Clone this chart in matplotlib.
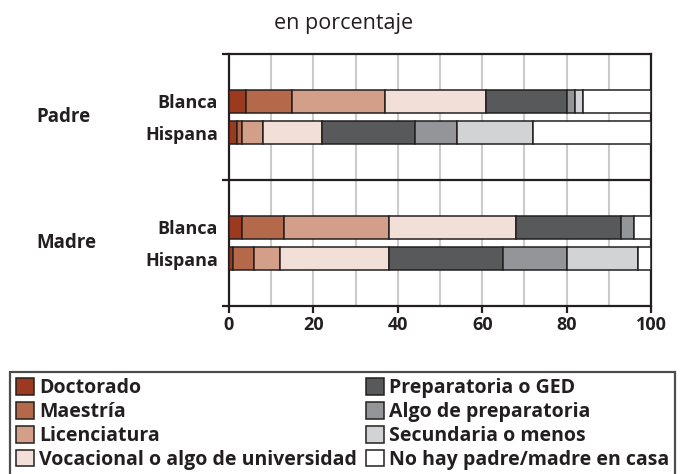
import matplotlib
matplotlib.use("Agg")
import matplotlib.pyplot as plt
from matplotlib.patches import Patch
from matplotlib import transforms

plt.rcParams['font.family'] = ['Open Sans', 'DejaVu Sans']

# datos (en porcentaje)
niveles = ['Doctorado', 'Maestría', 'Licenciatura', 'Vocacional o algo de universidad',
           'Preparatoria o GED', 'Algo de preparatoria', 'Secundaria o menos',
           'No hay padre/madre en casa']
grupos = ['Padre', 'Madre']
razas = ['Blanca', 'Hispana', 'Blanca', 'Hispana']
padre_blanca = [4, 11, 22, 24, 19, 2, 2, 16]
padre_hispana = [2, 1, 5, 14, 22, 10, 18, 28]
madre_blanca = [3, 10, 25, 30, 25, 3, 0, 4]
madre_hispana = [1, 5, 6, 26, 27, 15, 17, 3]
filas = [padre_blanca, padre_hispana, madre_blanca, madre_hispana]

colores = ['#9b3a1f', '#b5694b', '#d49f88', '#f2e0d8',
           '#58595b', '#939598', '#d1d3d4', '#ffffff']
oscuro = '#231f20'

fig = plt.figure(figsize=(6.88, 4.74), dpi=100)
ax = fig.add_axes([229 / 688, 1 - 306 / 474, 422 / 688, 252 / 474])

posiciones = [1.5, 2.5, 5.5, 6.5]
for pos, fila in zip(posiciones, filas):
    izq = 0
    for valor, color in zip(fila, colores):
        if valor > 0:
            ax.barh(pos, valor, left=izq, height=0.73, color=color,
                    edgecolor=oscuro, linewidth=1.1, zorder=3)
        izq += valor

ax.set_xlim(0, 100)
ax.set_ylim(8, 0)
ax.axhline(4, color=oscuro, linewidth=1.6, zorder=4)

ax.set_xticks(range(0, 101, 20))
ax.set_xticks(range(10, 100, 20), minor=True)
ax.grid(axis='x', which='both', color='#cbcbcb', linewidth=1.5, zorder=0)
ax.tick_params(axis='x', which='major', direction='out', length=5, width=1.6,
               color=oscuro, labelsize=13, pad=2)
ax.tick_params(axis='x', which='minor', length=0)
for t in ax.get_xticklabels():
    t.set_fontweight('bold')
    t.set_color(oscuro)

ax.set_yticks([0, 4, 8])
ax.set_yticklabels([])
ax.set_yticks(posiciones, minor=True)
ax.set_yticklabels(razas, minor=True, fontsize=13, fontweight='bold', color=oscuro)
ax.tick_params(axis='y', which='major', direction='out', length=5, width=1.6, color=oscuro)
ax.tick_params(axis='y', which='minor', length=0, pad=8)

for s in ax.spines.values():
    s.set_linewidth(1.6)
    s.set_color(oscuro)

tr = transforms.blended_transform_factory(fig.transFigure, ax.transData)
for g, y in zip(grupos, [2, 6]):
    ax.text(36 / 688, y, g, transform=tr, ha='left', va='center',
            fontsize=13.5, fontweight='bold', color=oscuro)

fig.text(0.5, 1 - 23 / 474, 'en porcentaje', ha='center', va='center',
         fontsize=15.5, color=oscuro)

manijas = [Patch(facecolor=c, edgecolor=oscuro, linewidth=1.1) for c in colores]
leg = fig.legend(manijas, niveles, loc='upper left', ncol=2,
                 bbox_to_anchor=(10 / 688, 1 - 372 / 474, 665 / 688, 0),
                 mode='expand', fontsize=14, frameon=True, fancybox=False,
                 handlelength=0.95, handleheight=0.95, handletextpad=0.25,
                 labelspacing=0.2, borderpad=0.3, borderaxespad=0,
                 columnspacing=0.2)
leg.get_frame().set_edgecolor(oscuro)
leg.get_frame().set_linewidth(1.6)
for t in leg.get_texts():
    t.set_fontweight('bold')
    t.set_color(oscuro)

fig.savefig('out.png', dpi=100)
